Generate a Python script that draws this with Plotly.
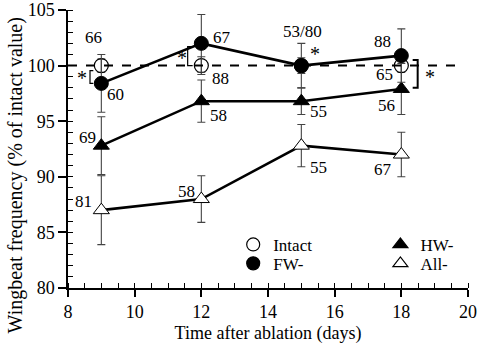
import plotly.graph_objects as go

days = [9, 12, 15, 18]
intact = [100.0, 100.0, 100.0, 100.0]
intact_err = [0.6, 0.8, 0.7, 0.6]
fw = [98.4, 102.0, 100.0, 100.9]
fw_err = [2.6, 2.6, 2.0, 2.4]
hw = [92.8, 96.8, 96.8, 97.9]
hw_err = [2.6, 1.9, 1.2, 2.3]
allm = [87.0, 88.0, 92.8, 92.0]
all_err = [3.1, 2.1, 1.9, 2.0]

# sample sizes (text, x, y)
n_labels = [
    ("66", 8.75, 102.5), ("60", 9.42, 97.4), ("69", 8.58, 93.5), ("81", 8.45, 87.8),
    ("67", 12.62, 102.5), ("88", 12.57, 98.8), ("58", 12.52, 95.5), ("58", 11.55, 88.7),
    ("53/80", 15.02, 103.1), ("55", 15.5, 95.9), ("55", 15.5, 90.8),
    ("88", 17.42, 102.2), ("65", 17.5, 99.2), ("56", 17.55, 96.4), ("67", 17.45, 90.7),
]
stars = [(8.41, 98.9), (11.41, 100.7), (15.42, 101.0), (18.86, 99.0)]

FONT = "Liberation Serif"
ERRC = "#444444"

fig = go.Figure()

def add_series(y, err, symbol, fill, line_color, name, show_line=True, lw=1.0):
    fig.add_trace(go.Scatter(
        x=days, y=y, name=name, showlegend=False,
        mode="lines+markers" if show_line else "markers",
        line=dict(color="black", width=2.6),
        marker=dict(symbol=symbol, size=14, color=fill, line=dict(color=line_color, width=lw)),
        error_y=dict(type="data", array=err, visible=True, color=ERRC, thickness=1.1, width=4),
    ))

add_series(allm, all_err, "triangle-up", "white", "black", "All-", lw=1.0)
add_series(hw, hw_err, "triangle-up", "black", "black", "HW-")
add_series(intact, intact_err, "circle-open", "black", "black", "Intact", show_line=False, lw=1.2)
add_series(fw, fw_err, "circle", "black", "black", "FW-")

# legend-only entries, one legend each for exact placement
leg = [("Intact", "circle-open", "white", "legend", 0.413, 0.155),
       ("FW-", "circle", "black", "legend2", 0.413, 0.087),
       ("HW-", "triangle-up", "black", "legend3", 0.781, 0.155),
       ("All-", "triangle-up", "white", "legend4", 0.781, 0.087)]
leg_layout = {}
for name, sym, col, lg, lx, ly in leg:
    fig.add_trace(go.Scatter(x=[None], y=[None], mode="markers", name=name, legend=lg,
                             marker=dict(symbol=sym, size=13, color=col if sym != "circle-open" else "black",
                                         line=dict(color="black", width=1.2))))
    leg_layout[lg] = dict(x=lx, y=ly, xanchor="left", yanchor="middle", bgcolor="rgba(0,0,0,0)",
                          font=dict(family=FONT, size=17, color="black"), itemwidth=30)

# dashed 100% line
fig.add_shape(type="line", x0=8, x1=19.7, y0=100, y1=100, line=dict(color="black", width=2, dash="dash"))

# brackets
def bracket(xv, y0, y1, arm, w=1.2):
    fig.add_shape(type="path", path=f"M {xv+arm} {y0} L {xv} {y0} L {xv} {y1} L {xv+arm} {y1}",
                  line=dict(color="black", width=w))
bracket(8.66, 99.55, 98.4, 0.1)
bracket(11.59, 101.7, 100.0, 0.15)
bracket(18.49, 100.5, 98.0, -0.15, w=2)

for t, x, y in n_labels:
    fig.add_annotation(x=x, y=y, text=t, showarrow=False, font=dict(family=FONT, size=17, color="black"))
for x, y in stars:
    fig.add_annotation(x=x, y=y, text="*", showarrow=False, font=dict(family=FONT, size=20, color="black"))

# y-axis title (placed as in the reference, slightly below the axis centre)
fig.add_annotation(xref="paper", yref="paper", x=-0.1325, y=0.405, text="Wingbeat frequency (% of intact value)",
                   textangle=-90, showarrow=False, xanchor="center", yanchor="middle",
                   font=dict(family=FONT, size=20, color="black"))

axis_common = dict(showline=True, linecolor="black", linewidth=1.5, ticks="outside",
                   tickcolor="black", tickwidth=1.5, showgrid=False, zeroline=False, automargin=False,
                   ticklabeloverflow="allow",
                   tickfont=dict(family=FONT, size=18, color="black"),
                   title_font=dict(family=FONT, size=18, color="black"))

fig.update_xaxes(range=[8, 20], dtick=2, tick0=8, title_text="Time after ablation (days)", ticklen=7,
                 minor=dict(ticks="inside", ticklen=5, dtick=0.5, tickcolor="black", tickwidth=1.2),
                 title_standoff=8, **axis_common)
fig.update_yaxes(range=[80, 105], dtick=5, tick0=80, ticklen=8,
                 minor=dict(ticks="inside", ticklen=5, dtick=1, tickcolor="black", tickwidth=1.2),
                 **axis_common)

fig.update_layout(
    width=478, height=344, margin=dict(l=68, r=10, t=10, b=56),
    plot_bgcolor="white", paper_bgcolor="white",
    font=dict(family=FONT, size=18, color="black"),
    **leg_layout,
)

fig.write_html("out.html")
